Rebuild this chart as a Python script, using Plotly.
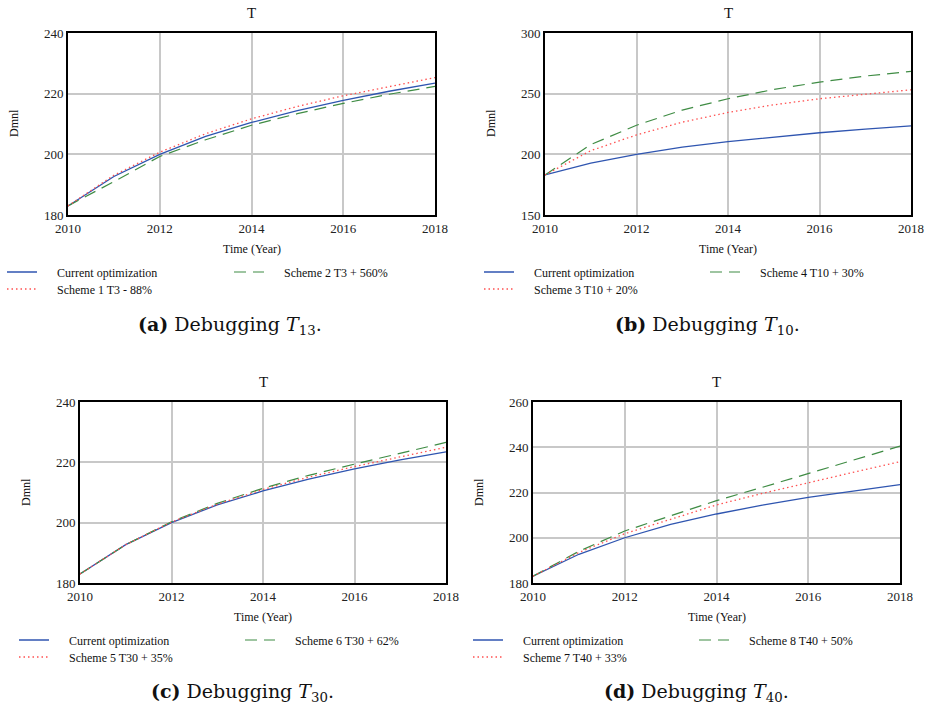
import plotly.graph_objects as go

OFF = 0
W, H = 925, 711

# ---------------- data ----------------
years = [2010, 2011, 2012, 2013, 2014, 2015, 2016, 2017, 2018]
current = [183, 192.7, 200, 205.9, 210.5, 214.4, 217.8, 220.8, 223.5]
scheme1 = [183, 193.1, 200.7, 206.8, 211.7, 215.8, 219.3, 222.4, 225.3]
scheme2 = [183, 191.0, 199.3, 204.8, 209.6, 213.4, 216.8, 219.8, 222.4]
scheme3 = [183, 203.0, 216.0, 226.5, 234.5, 240.8, 245.8, 249.5, 253.2]
scheme4 = [183, 208.0, 224.0, 236.5, 245.8, 253.5, 259.5, 264.5, 268.4]
scheme5 = [183, 192.7, 200.2, 206.1, 211.0, 215.1, 218.6, 221.9, 225.0]
scheme6 = [183, 192.7, 200.3, 206.4, 211.4, 215.7, 219.4, 223.0, 226.6]
scheme7 = [183, 193.5, 201.8, 208.3, 214.5, 219.6, 224.4, 229.0, 233.6]
scheme8 = [183, 194.0, 203.0, 209.8, 216.4, 222.3, 228.4, 234.4, 240.5]

names_current = "Current optimization"
names_a = ["Scheme 1 T3 - 88%", "Scheme 2 T3 + 560%"]
names_b = ["Scheme 3 T10 + 20%", "Scheme 4 T10 + 30%"]
names_c = ["Scheme 5 T30 + 35%", "Scheme 6 T30 + 62%"]
names_d = ["Scheme 7 T40 + 33%", "Scheme 8 T40 + 50%"]

x_ticks = [2010, 2012, 2014, 2016, 2018]
y_ticks_a = [180, 200, 220, 240]
y_ticks_b = [150, 200, 250, 300]
y_ticks_c = [180, 200, 220, 240]
y_ticks_d = [180, 200, 220, 240, 260]

captions = [
    "<b>(a)</b> Debugging <i>T</i><sub>13</sub>.",
    "<b>(b)</b> Debugging <i>T</i><sub>10</sub>.",
    "<b>(c)</b> Debugging <i>T</i><sub>30</sub>.",
    "<b>(d)</b> Debugging <i>T</i><sub>40</sub>.",
]

# ---------------- layout / style ----------------
SERIF = "Liberation Serif, Times New Roman, Tinos, serif"
CAP_FONT = "DejaVu Serif, serif"
BLUE = "#2f55b0"
RED = "#ff5050"
GREEN = "#3f8c44"
GRID = "#c8c8c8"
PAD = "\u00a0" * 5  # wider gap between legend line and its label

panels = [
    dict(x0=68, x1=435, top=33, bot=215, yt=y_ticks_a, s1=scheme1, s2=scheme2, nm=names_a,
         leg1=7, leg2=234, r1=272, r2=289, cap=(230, 325)),
    dict(x0=545, x1=911, top=33, bot=215, yt=y_ticks_b, s1=scheme3, s2=scheme4, nm=names_b,
         leg1=484, leg2=710, r1=272, r2=289, cap=(707, 325)),
    dict(x0=80, x1=446, top=402, bot=583, yt=y_ticks_c, s1=scheme5, s2=scheme6, nm=names_c,
         leg1=19, leg2=245, r1=640, r2=657, cap=(242, 692)),
    dict(x0=533, x1=900, top=402, bot=583, yt=y_ticks_d, s1=scheme7, s2=scheme8, nm=names_d,
         leg1=473, leg2=699, r1=640, r2=657, cap=(696, 692)),
]


def fx(px):
    return (px - OFF) / W


def fy(py):
    return 1 - (py - OFF) / H


fig = go.Figure()
annotations = []
layout = {}
leg_idx = 0


def leg_name(k):
    return "legend" if k == 1 else f"legend{k}"


for i, p in enumerate(panels, start=1):
    xa = "x" if i == 1 else f"x{i}"
    ya = "y" if i == 1 else f"y{i}"
    xkey = "xaxis" if i == 1 else f"xaxis{i}"
    ykey = "yaxis" if i == 1 else f"yaxis{i}"

    series = [
        (names_current, current, dict(color=BLUE, width=1.3), p["leg1"], p["r1"]),
        (p["nm"][1], p["s2"], dict(color=GREEN, width=1.2, dash="12px,7px"), p["leg2"], p["r1"]),
        (p["nm"][0], p["s1"], dict(color=RED, width=1.3, dash="1.5px,3px"), p["leg1"], p["r2"]),
    ]
    for name, vals, line, lx, ly in series:
        leg_idx += 1
        ln = leg_name(leg_idx)
        fig.add_trace(go.Scatter(x=years, y=vals, mode="lines", name=PAD + name, line=line,
                                 xaxis=xa, yaxis=ya, legend=ln))
        layout[ln] = dict(
            x=fx(lx - 5), y=fy(ly - 14.5), xanchor="left", yanchor="top",
            orientation="v", bgcolor="rgba(0,0,0,0)", borderwidth=0,
            font=dict(family=SERIF, size=12, color="#111"), itemwidth=30,
            itemclick=False, itemdoubleclick=False,
        )

    common = dict(ticks="", automargin=False, showgrid=True, gridcolor=GRID, gridwidth=1.5,
                  zeroline=False, showline=True, mirror=True, linecolor="black", linewidth=2,
                  tickfont=dict(family=SERIF, size=13, color="#222"))
    layout[xkey] = dict(
        domain=[fx(p["x0"]), fx(p["x1"])], anchor=ya, range=[years[0], years[-1]],
        tickvals=x_ticks, ticktext=[str(t) for t in x_ticks], **common,
    )
    layout[ykey] = dict(
        domain=[fy(p["bot"]), fy(p["top"])], anchor=xa,
        range=[p["yt"][0], p["yt"][-1]], tickvals=p["yt"],
        ticktext=[str(t) for t in p["yt"]], **common,
    )

    cx = (p["x0"] + p["x1"]) / 2
    annotations.append(dict(text="T", x=fx(cx), y=fy(p["top"] - 20), xref="paper", yref="paper",
                            showarrow=False, font=dict(family=SERIF, size=15, color="#111"),
                            xanchor="center", yanchor="middle"))
    annotations.append(dict(text="Time (Year)", x=fx(cx), y=fy(p["bot"] + 34), xref="paper",
                            yref="paper", showarrow=False, font=dict(family=SERIF, size=12, color="#111"),
                            xanchor="center", yanchor="middle"))
    annotations.append(dict(text="Dmnl", x=fx(p["x0"] - 54), y=fy(p["top"] + 90), xref="paper",
                            yref="paper", showarrow=False, textangle=-90,
                            font=dict(family=SERIF, size=12, color="#111"),
                            xanchor="center", yanchor="middle"))
    annotations.append(dict(text=captions[i - 1], x=fx(p["cap"][0]), y=fy(p["cap"][1]), xref="paper",
                            yref="paper", showarrow=False, font=dict(family=CAP_FONT, size=19, color="#111"),
                            xanchor="center", yanchor="middle"))

fig.update_layout(
    template="none",
    width=W, height=H, margin=dict(l=0, r=0, t=0, b=0, autoexpand=False),
    paper_bgcolor="white", plot_bgcolor="white",
    showlegend=True, annotations=annotations, **layout,
)

fig.write_html(
    "out.html",
    config={"displayModeBar": False},
    post_script="document.body.style.margin='0';document.body.style.overflow='hidden';",
)
